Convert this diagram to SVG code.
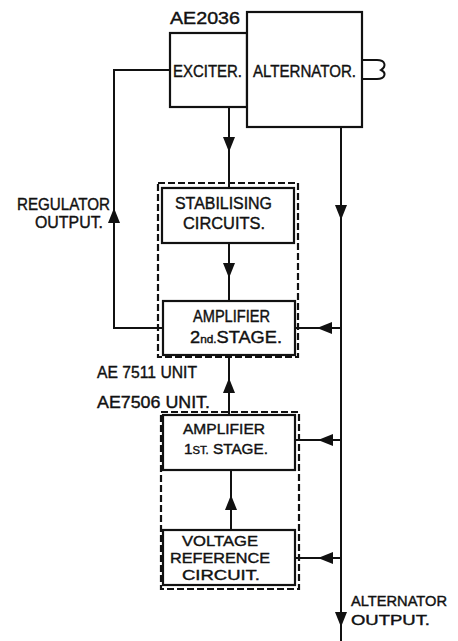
<svg xmlns="http://www.w3.org/2000/svg" xmlns:xlink="http://www.w3.org/1999/xlink" width="458" height="641" viewBox="0 0 458 641">
<style>
.b{fill:#fff;stroke:#111;stroke-width:2.2}
.d{fill:none;stroke:#111;stroke-width:2.2;stroke-dasharray:7,3}
.l{fill:none;stroke:#111;stroke-width:2}
text{font-family:"Liberation Sans",Arial,sans-serif;font-size:17px;fill:#111;stroke:#111;stroke-width:0.4}
.m{font-size:15px}
.o{font-size:14.5px}
.s{font-size:11px}
</style>
<defs>
<path id="ah" d="M0,0 L-6,-15 L6,-15 Z" fill="#111"/>
</defs>
<rect width="458" height="641" fill="#fff"/>
<g id="stab-unit">
<rect class="d" x="158" y="183" width="140" height="174"/>
</g>
<g id="amp-unit">
<rect class="d" x="161" y="412" width="138" height="177"/>
</g>
<g id="connectors">
<path class="l" d="M170,70 H114 V328 H163"/>
<path class="l" d="M229,107 V188"/>
<path class="l" d="M229,243 V301"/>
<path class="l" d="M229,415 V355"/>
<path class="l" d="M231,530 V470"/>
<path class="l" d="M341,127 V641"/>
<path class="l" d="M341,328 H295"/>
<path class="l" d="M341,440 H295"/>
<path class="l" d="M341,558 H295"/>
<use xlink:href="#ah" transform="translate(229,152)"/>
<use xlink:href="#ah" transform="translate(341,220)"/>
<use xlink:href="#ah" transform="translate(114,208) rotate(180)"/>
<use xlink:href="#ah" transform="translate(229,278)"/>
<use xlink:href="#ah" transform="translate(317,328) rotate(90)"/>
<use xlink:href="#ah" transform="translate(229,378) rotate(180)"/>
<use xlink:href="#ah" transform="translate(318,440) rotate(90)"/>
<use xlink:href="#ah" transform="translate(231,495) rotate(180)"/>
<use xlink:href="#ah" transform="translate(318,558) rotate(90)"/>
<use xlink:href="#ah" transform="translate(341,627)"/>
</g>
<g id="exciter">
<rect class="b" x="170" y="33" width="77" height="74"/>
<text x="173" y="77" textLength="69" lengthAdjust="spacingAndGlyphs">EXCITER.</text>
<text x="170" y="24" textLength="70" lengthAdjust="spacingAndGlyphs">AE2036</text>
</g>
<g id="alternator">
<rect class="b" x="247" y="12" width="115" height="115"/>
<text x="253" y="77" textLength="103" lengthAdjust="spacingAndGlyphs">ALTERNATOR.</text>
<path class="l" d="M362,60 H377 C385,60 387,66 381,70 C387,73 385,79 377,79 H362"/>
</g>
<g id="stabilising">
<rect class="b" x="162" y="188" width="132" height="55"/>
<text x="175" y="209" textLength="97" lengthAdjust="spacingAndGlyphs">STABILISING</text>
<text x="183" y="229" textLength="82" lengthAdjust="spacingAndGlyphs">CIRCUITS.</text>
</g>
<g id="amp2">
<rect class="b" x="163" y="301" width="132" height="54"/>
<text x="193" y="322" textLength="77" lengthAdjust="spacingAndGlyphs">AMPLIFIER</text>
<text x="190" y="343" textLength="92" lengthAdjust="spacingAndGlyphs">2<tspan class="s">nd.</tspan>STAGE.</text>
</g>
<g id="amp1">
<rect class="b" x="163" y="415" width="132" height="55"/>
<text class="m" x="183" y="434" textLength="82" lengthAdjust="spacingAndGlyphs">AMPLIFIER</text>
<text class="m" x="184" y="454" textLength="84" lengthAdjust="spacingAndGlyphs">1<tspan class="s">ST.</tspan> STAGE.</text>
</g>
<g id="vref">
<rect class="b" x="163" y="530" width="132" height="55"/>
<text class="m" x="182" y="546" textLength="76" lengthAdjust="spacingAndGlyphs">VOLTAGE</text>
<text class="m" x="170" y="563" textLength="100" lengthAdjust="spacingAndGlyphs">REFERENCE</text>
<text class="m" x="182" y="580" textLength="78" lengthAdjust="spacingAndGlyphs">CIRCUIT.</text>
</g>
<g id="labels">
<text x="17" y="210" textLength="93" lengthAdjust="spacingAndGlyphs">REGULATOR</text>
<text x="35" y="228" textLength="68" lengthAdjust="spacingAndGlyphs">OUTPUT.</text>
<text x="97" y="378" textLength="100" lengthAdjust="spacingAndGlyphs">AE 7511 UNIT</text>
<text x="97" y="408" textLength="113" lengthAdjust="spacingAndGlyphs">AE7506 UNIT.</text>
<text class="o" x="351" y="606" textLength="96" lengthAdjust="spacingAndGlyphs">ALTERNATOR</text>
<text class="o" x="351" y="625" textLength="79" lengthAdjust="spacingAndGlyphs">OUTPUT.</text>
</g>
</svg>
